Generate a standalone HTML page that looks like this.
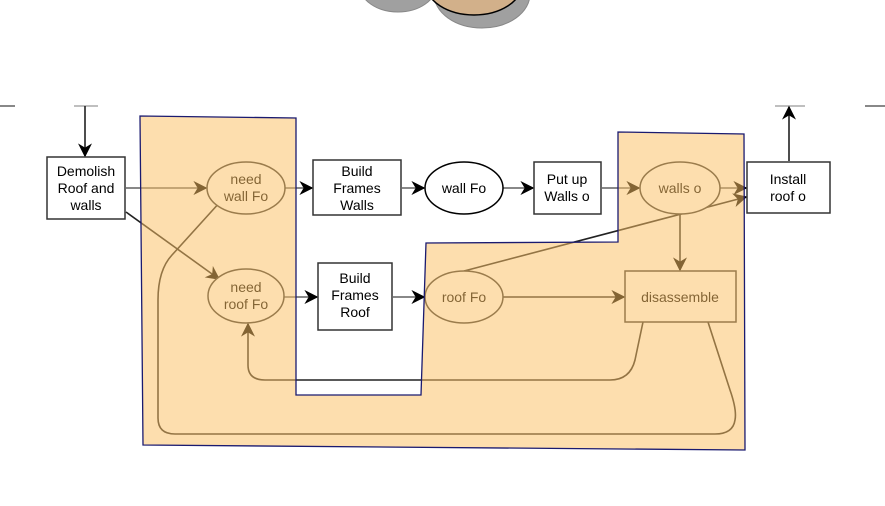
<!DOCTYPE html>
<html><head><style>html,body{margin:0;padding:0;background:#fff;}svg{display:block}</style></head>
<body>
<svg width="885" height="506" viewBox="0 0 885 506" xmlns="http://www.w3.org/2000/svg" font-family="Liberation Sans, DejaVu Sans, sans-serif" font-size="14">
<defs>
<marker id="b" viewBox="0 0 10 10" refX="9" refY="5" markerWidth="14" markerHeight="14" orient="auto" markerUnits="userSpaceOnUse"><path d="M0,0 L10,5 L0,10 L3,5 z" fill="#000"/></marker>
</defs>
<ellipse cx="398" cy="-14" rx="38" ry="26" fill="#a0a0a0" stroke="#888"/>
<ellipse cx="482" cy="-6" rx="48" ry="34" fill="#a0a0a0" stroke="#888"/>
<ellipse cx="474" cy="-16" rx="48" ry="31" fill="#d2b08a" stroke="#000" stroke-width="1.5"/>
<line x1="0" y1="106" x2="15" y2="106" stroke="#888" stroke-width="2"/>
<line x1="865" y1="106" x2="885" y2="106" stroke="#888" stroke-width="2"/>
<line x1="74" y1="106" x2="98" y2="106" stroke="#aaa" stroke-width="1.5"/>
<line x1="775" y1="106" x2="805" y2="106" stroke="#aaa" stroke-width="1.5"/>
<g stroke="#222" stroke-width="1.6" fill="none">
<line x1="85" y1="106" x2="85" y2="156" marker-end="url(#b)"/>
<line x1="789" y1="161" x2="789" y2="107" marker-end="url(#b)"/>
<line x1="126" y1="188" x2="206" y2="188" marker-end="url(#b)" stroke="#888" stroke-width="2"/>
<line x1="285" y1="188" x2="312" y2="188" marker-end="url(#b)" stroke="#888" stroke-width="2"/>
<line x1="402" y1="188" x2="424" y2="188" marker-end="url(#b)" stroke="#888" stroke-width="2"/>
<line x1="503" y1="188" x2="533" y2="188" marker-end="url(#b)" stroke="#888" stroke-width="2"/>
<line x1="602" y1="188" x2="639" y2="188" marker-end="url(#b)" stroke="#888" stroke-width="2"/>
<line x1="720" y1="188" x2="746" y2="188" marker-end="url(#b)" stroke="#888" stroke-width="2"/>
<line x1="126" y1="212" x2="219" y2="279" marker-end="url(#b)"/>
<line x1="284" y1="297" x2="317" y2="297" marker-end="url(#b)" stroke="#888" stroke-width="2"/>
<line x1="393" y1="297" x2="424" y2="297" marker-end="url(#b)" stroke="#888" stroke-width="2"/>
<line x1="503" y1="297" x2="624" y2="297" marker-end="url(#b)"/>
<line x1="464" y1="271" x2="746" y2="197" marker-end="url(#b)"/>
<line x1="680" y1="214" x2="680" y2="270" marker-end="url(#b)"/>
<path d="M643,322 L635,360 Q630,380 610,380 L265,380 Q248,380 248,365 L248,324" marker-end="url(#b)"/>
<path d="M708,322 L730,390 Q737,410 735,420 Q733,434 715,434 L175,434 Q158,434 158,418 L158,300 Q158,270 172,255 L230,191" marker-end="url(#b)"/>
</g>
<g stroke="#333" stroke-width="1.5" fill="#fff">
<rect x="47" y="157" width="78" height="62"/>
<ellipse cx="246" cy="188" rx="39" ry="26"/>
<rect x="313" y="160" width="88" height="55"/>
<ellipse cx="464" cy="188" rx="39" ry="26" stroke="#000"/>
<rect x="534" y="162" width="67" height="52"/>
<ellipse cx="680" cy="188" rx="40" ry="26"/>
<rect x="747" y="162" width="83" height="51"/>
<ellipse cx="246" cy="296" rx="38" ry="27"/>
<rect x="318" y="263" width="74" height="67"/>
<ellipse cx="464" cy="297" rx="39" ry="26"/>
<rect x="625" y="271" width="111" height="51"/>
</g>
<g fill="#000" text-anchor="middle">
<text x="86" y="176">Demolish</text><text x="86" y="193">Roof and</text><text x="86" y="210">walls</text>
<text x="246" y="184">need</text><text x="246" y="201">wall Fo</text>
<text x="357" y="176">Build</text><text x="357" y="193">Frames</text><text x="357" y="210">Walls</text>
<text x="464" y="193">wall Fo</text>
<text x="567" y="184">Put up</text><text x="567" y="201">Walls o</text>
<text x="680" y="193">walls o</text>
<text x="788" y="184">Install</text><text x="788" y="201">roof o</text>
<text x="246" y="292">need</text><text x="246" y="309">roof Fo</text>
<text x="355" y="283">Build</text><text x="355" y="300">Frames</text><text x="355" y="317">Roof</text>
<text x="464" y="302">roof Fo</text>
<text x="680" y="302">disassemble</text>
</g>
<polygon points="140,116 296,118 296,395 421,395 426,243 618,242 618,132 744,134 745,450 143,445" fill="#fbbf64" fill-opacity="0.52" stroke="#1a1a70" stroke-width="1.3"/>
</svg>
</body></html>
